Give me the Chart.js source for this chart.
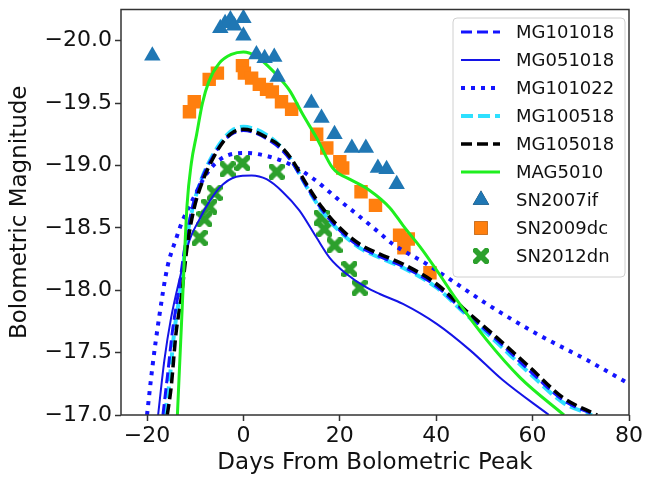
<!DOCTYPE html>
<html>
<head>
<meta charset="utf-8">
<script src="https://cdn.jsdelivr.net/npm/chart.js@4.4.1/dist/chart.umd.min.js"></script>
<style>
  html, body { margin: 0; padding: 0; background: #fff; }
</style>
</head>
<body>
<canvas id="myChart" width="649" height="481"></canvas>
<script>
// model light curves (days from peak, bolometric magnitude)
const mg101018Days = [-16.7, -15.8, -14.7, -13.5, -12.1, -10.6, -8.8, -6.5, -4.0, -2.0, 0, 2.5, 5, 7.5, 10, 13.1, 16.4, 20, 24.1, 28.3, 33.1, 40.1, 45.5, 52.6, 59.5, 66.3, 72.8];
const mg101018Mag = [-17.0, -17.3, -17.68, -17.98, -18.36, -18.66, -18.88, -19.06, -19.2, -19.26, -19.28, -19.26, -19.21, -19.14, -19.03, -18.83, -18.64, -18.48, -18.35, -18.27, -18.19, -18.03, -17.84, -17.6, -17.35, -17.12, -17.0];

const mg051018Days = [-17.7, -16.4, -15.0, -13.3, -11.2, -9.1, -7.7, -5.0, -1.5, 1.7, 4.8, 8.1, 11.6, 15.2, 17.9, 21.4, 25.6, 28.3, 33.1, 40.1, 47, 53.8, 63.4];
const mg051018Mag = [-17.0, -17.44, -17.78, -18.08, -18.4, -18.57, -18.67, -18.82, -18.91, -18.92, -18.89, -18.79, -18.64, -18.42, -18.26, -18.13, -18.02, -17.97, -17.89, -17.73, -17.52, -17.28, -17.0];

const mg101022Days = [-20.0, -18.9, -17.5, -15.8, -13.9, -12.7, -10.6, -7.7, -4.4, 0.6, 5.4, 9.6, 14.3, 19.3, 23.5, 27.6, 31, 38, 44.3, 50.5, 60.9, 71.3, 80];
const mg101022Mag = [-17.0, -17.38, -17.78, -18.18, -18.42, -18.55, -18.72, -18.93, -19.06, -19.1, -19.07, -19.01, -18.9, -18.74, -18.61, -18.48, -18.37, -18.21, -18.05, -17.89, -17.65, -17.44, -17.25];

const mg100518Days = [-16.3, -15.4, -14.4, -13.2, -11.9, -10.4, -8.6, -6.4, -4.0, -2.0, 0, 2.5, 5, 7.5, 10, 13.1, 16.4, 20, 24.1, 28.3, 33.1, 40.1, 45.5, 52.6, 59.5, 66.3, 72.3];
const mg100518Mag = [-17.0, -17.25, -17.65, -17.97, -18.38, -18.68, -18.9, -19.08, -19.22, -19.29, -19.31, -19.29, -19.24, -19.16, -19.04, -18.83, -18.63, -18.47, -18.34, -18.26, -18.18, -18.02, -17.83, -17.58, -17.33, -17.1, -17.0];

const mg105018Days = [-15.8, -15.0, -14.0, -12.9, -11.6, -10.2, -8.5, -6.4, -4.0, -2.0, 0, 2.5, 5, 7.5, 10, 13.1, 16.4, 20, 24.1, 28.3, 33.1, 40.1, 45.5, 52.6, 59.5, 66.3, 73.4];
const mg105018Mag = [-17.0, -17.22, -17.65, -17.94, -18.37, -18.66, -18.87, -19.05, -19.2, -19.27, -19.29, -19.27, -19.22, -19.16, -19.05, -18.85, -18.66, -18.5, -18.37, -18.29, -18.21, -18.05, -17.86, -17.62, -17.38, -17.14, -17.0];

const mag5010Days = [-13.7, -12.7, -11.7, -10.8, -9.7, -8.5, -7.2, -5.0, -2.5, 0, 2.5, 5, 7.5, 9.6, 12.3, 15.2, 18.5, 20, 22, 26.2, 30.4, 33.1, 37, 40.1, 44.3, 50.5, 57.4, 66.5];
const mag5010Mag = [-17.0, -17.86, -18.68, -19.02, -19.25, -19.5, -19.67, -19.82, -19.89, -19.91, -19.88, -19.8, -19.7, -19.6, -19.41, -19.22, -18.98, -18.93, -18.89, -18.8, -18.66, -18.52, -18.33, -18.16, -17.92, -17.6, -17.3, -17.0];

// observed supernovae
const sn2007ifDays = [-18.9, -4.8, -3.8, -2.7, -1.9, 0, 0, 2.7, 4.4, 6.4, 7.1, 14.1, 16.2, 18.9, 22.5, 25.4, 27.9, 29.7, 31.8];
const sn2007ifMag = [-19.88, -20.1, -20.14, -20.17, -20.12, -20.18, -20.04, -19.89, -19.86, -19.87, -19.71, -19.5, -19.38, -19.25, -19.14, -19.14, -18.98, -18.97, -18.85];

const sn2009dcDays = [-11.2, -10.2, -7.1, -5.4, -0.2, 0.2, 1.7, 3.3, 4.8, 6.0, 7.9, 10.0, 15.2, 17.3, 20.0, 20.6, 24.4, 27.4, 32.4, 34.2, 33.3, 38.7];
const sn2009dcMag = [-19.43, -19.51, -19.69, -19.74, -19.8, -19.74, -19.7, -19.65, -19.61, -19.59, -19.51, -19.45, -19.25, -19.14, -19.03, -18.98, -18.79, -18.68, -18.44, -18.41, -18.34, -18.14];

const sn2012dnDays = [-9.1, -8.1, -7.1, -6.0, -3.3, -0.2, 6.9, 16.2, 16.8, 18.9, 22.0, 24.1];
const sn2012dnMag = [-18.42, -18.57, -18.67, -18.78, -18.97, -19.02, -18.95, -18.58, -18.49, -18.36, -18.17, -18.02];

const xTickVals = [-20, 0, 20, 40, 60, 80];
const yTickVals = [-20.0, -19.5, -19.0, -18.5, -18.0, -17.5, -17.0];

const pts = (days, mags) => days.map((d, i) => ({ x: d, y: mags[i] }));
const minus = s => s.replace('-', '\u2212');

// filled "X" marker like matplotlib
function makeX(size, color) {
  const c = document.createElement('canvas');
  c.width = size; c.height = size;
  const g = c.getContext('2d');
  g.fillStyle = color;
  g.translate(size / 2, size / 2);
  const len = size * 1.3, th = size * 0.36;
  g.rotate(Math.PI / 4);
  g.fillRect(-len / 2, -th / 2, len, th);
  g.rotate(Math.PI / 2);
  g.fillRect(-len / 2, -th / 2, len, th);
  return c;
}
const xMarker = makeX(16, '#2ca02c');

function curve(label, days, mags, color, width, dash, order) {
  return {
    label: label, data: pts(days, mags), showLine: true,
    borderColor: color, backgroundColor: color, borderWidth: width,
    borderDash: dash, borderCapStyle: 'butt',
    pointRadius: 0, cubicInterpolationMode: 'monotone', order: order
  };
}
function marks(label, days, mags, style, color, radius, order) {
  return {
    label: label, data: pts(days, mags), showLine: false,
    pointStyle: style, pointRadius: radius, pointBorderWidth: 0,
    backgroundColor: color, borderColor: color, order: order
  };
}

// frame + legend drawn inside the axes, matplotlib style
const boxLegend = {
  id: 'boxLegend',
  afterDatasetsDraw(chart) {
    const ctx = chart.ctx;
    const a = chart.chartArea;
    ctx.save();
    ctx.strokeStyle = '#333';
    ctx.lineWidth = 1.5;
    ctx.strokeRect(a.left, a.top, a.right - a.left, a.bottom - a.top);
    ctx.restore();
  },
  afterDraw(chart) {
    const ctx = chart.ctx;
    const x0 = 453, y0 = 18, w = 172, h = 259;
    ctx.save();
    ctx.beginPath();
    ctx.roundRect(x0, y0, w, h, 4);
    ctx.fillStyle = 'rgba(255,255,255,0.85)';
    ctx.fill();
    ctx.strokeStyle = '#d0d0d0';
    ctx.lineWidth = 1;
    ctx.stroke();
    ctx.font = '18px "DejaVu Sans"';
    ctx.textBaseline = 'middle';
    chart.data.datasets.forEach((ds, i) => {
      const y = 32 + i * 28;
      if (ds.showLine) {
        ctx.strokeStyle = ds.borderColor;
        ctx.lineWidth = ds.borderWidth;
        ctx.setLineDash(ds.borderDash || []);
        ctx.beginPath();
        ctx.moveTo(461, y);
        ctx.lineTo(500, y);
        ctx.stroke();
        ctx.setLineDash([]);
      } else {
        const st = ds.pointStyle;
        if (st instanceof HTMLCanvasElement) {
          ctx.drawImage(st, 481 - st.width / 2, y - st.height / 2);
        } else {
          Chart.helpers.drawPoint(ctx, { pointStyle: st, radius: ds.pointRadius, borderWidth: 0 }, 481, y);
          ctx.fillStyle = ds.backgroundColor;
          ctx.fill();
        }
      }
      ctx.fillStyle = '#111';
      ctx.fillText(ds.label, 516, y + 1);
    });
    ctx.restore();
  }
};

const ctx = document.getElementById('myChart');
const myChart = new Chart(ctx, {
  type: 'line',
  data: {
    datasets: [
      curve('MG101018', mg101018Days, mg101018Mag, '#1414ff', 3, [11, 5], 5),
      curve('MG051018', mg051018Days, mg051018Mag, '#1414e6', 2, [], 4),
      curve('MG101022', mg101022Days, mg101022Mag, '#1414ff', 4, [4, 6], 3),
      curve('MG100518', mg100518Days, mg100518Mag, '#2ee0ff', 4, [12, 5], 6),
      curve('MG105018', mg105018Days, mg105018Mag, '#000000', 3.5, [11, 5], 2),
      curve('MAG5010', mag5010Days, mag5010Mag, '#1fef1f', 3, [], 1),
      marks('SN2007if', sn2007ifDays, sn2007ifMag, 'triangle', '#1f77b4', 9.5, 0),
      marks('SN2009dc', sn2009dcDays, sn2009dcMag, 'rect', '#ff7f0e', 9.5, 10),
      marks('SN2012dn', sn2012dnDays, sn2012dnMag, xMarker, '#2ca02c', 8, 9)
    ]
  },
  options: {
    responsive: false,
    animation: false,
    devicePixelRatio: 1,
    layout: { padding: { top: 7, right: 20, left: 0, bottom: 0 } },
    plugins: { legend: { display: false }, tooltip: { enabled: false } },
    scales: {
      x: {
        type: 'linear', min: -25.4, max: 80,
        afterBuildTicks: s => { s.ticks = xTickVals.map(v => ({ value: v })); },
        afterFit: s => { s.height = 66; s.paddingLeft = 0; s.paddingRight = 0; },
        ticks: { callback: v => minus(String(v)), font: { family: 'DejaVu Sans', size: 22 }, color: '#111', padding: 2, autoSkip: false, maxRotation: 0 },
        grid: { drawOnChartArea: false, drawTicks: true, tickLength: 6, tickColor: '#333', tickWidth: 1.5 },
        border: { display: false },
        title: { display: true, text: 'Days From Bolometric Peak', font: { family: 'DejaVu Sans', size: 23 }, color: '#111', padding: { top: 0, bottom: 4 } }
      },
      y: {
        type: 'linear', reverse: true, min: -20.25, max: -17.0,
        afterBuildTicks: s => { s.ticks = yTickVals.map(v => ({ value: v })); },
        afterFit: s => { s.width = 121; s.paddingTop = 0; s.paddingBottom = 0; },
        ticks: { callback: v => minus(v.toFixed(1)), font: { family: 'DejaVu Sans', size: 22 }, color: '#111', padding: 3, autoSkip: false },
        grid: { drawOnChartArea: false, drawTicks: true, tickLength: 6, tickColor: '#333', tickWidth: 1.5 },
        border: { display: false },
        title: { display: true, text: 'Bolometric Magnitude', font: { family: 'DejaVu Sans', size: 23 }, color: '#111', padding: { top: 6, bottom: 0 } }
      }
    }
  },
  plugins: [boxLegend]
});
</script>
</body>
</html>
